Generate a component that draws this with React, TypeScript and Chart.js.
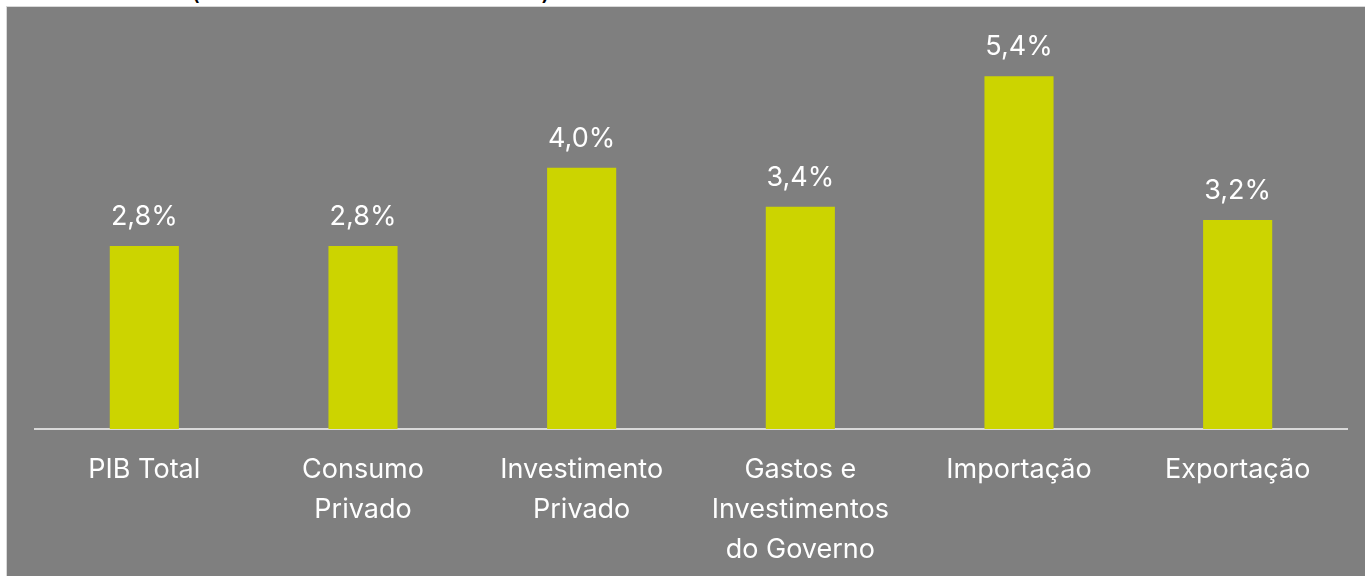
import React, { useEffect, useRef } from "react";
import { Chart, registerables } from "chart.js";

Chart.register(...registerables);

const categories: (string | string[])[] = [
  "PIB Total",
  ["Consumo", "Privado"],
  ["Investimento", "Privado"],
  ["Gastos e", "Investimentos", "do Governo"],
  "Importação",
  "Exportação",
];
const growth: number[] = [2.8, 2.8, 4.0, 3.4, 5.4, 3.2];

const FONT = "Inter, 'Noto Sans', sans-serif";

const valueLabels = {
  id: "valueLabels",
  afterDatasetsDraw(chart: any) {
    const ctx = chart.ctx;
    const meta = chart.getDatasetMeta(0);
    ctx.save();
    ctx.fillStyle = "#ffffff";
    ctx.font = `400 27px ${FONT}`;
    ctx.textAlign = "center";
    ctx.textBaseline = "alphabetic";
    meta.data.forEach((el: any, i: number) => {
      const v = chart.data.datasets[0].data[i] as number;
      ctx.fillText(v.toFixed(1).replace(".", ",") + "%", el.x, el.y - 21);
    });
    ctx.restore();
  },
};

export default function App() {
  const ref = useRef<HTMLCanvasElement | null>(null);

  useEffect(() => {
    if (!ref.current) return;
    const chart = new Chart(ref.current, {
      type: "bar",
      data: {
        labels: categories,
        datasets: [
          {
            data: growth,
            backgroundColor: "#CCD400",
            borderWidth: 0,
            categoryPercentage: 1,
            barPercentage: 0.316,
          },
        ],
      },
      options: {
        animation: false,
        responsive: true,
        maintainAspectRatio: false,
        layout: { padding: { left: 35, right: 18, top: 37, bottom: 0 } },
        plugins: {
          legend: { display: false },
          tooltip: { enabled: false },
          title: { display: false },
        },
        scales: {
          y: { display: false, min: 0, max: 6 },
          x: {
            grid: { display: false, drawTicks: false },
            border: { display: true, color: "#d9d9d9", width: 2 },
            ticks: {
              color: "#ffffff",
              font: { family: FONT, size: 27, lineHeight: 1.48 },
              padding: 21,
              maxRotation: 0,
              minRotation: 0,
              autoSkip: false,
            },
            afterFit: (scale: any) => {
              scale.height = 147;
            },
          },
        },
      },
      plugins: [valueLabels],
    });
    return () => chart.destroy();
  }, []);

  return (
    <div
      style={{
        position: "fixed",
        left: 0,
        top: 0,
        width: 1365,
        height: 576,
        background: "#ffffff",
        overflow: "hidden",
      }}
    >
      <span
        style={{
          position: "absolute",
          left: 190,
          top: -25,
          fontFamily: FONT,
          fontSize: 28,
          lineHeight: "28px",
          color: "#000",
        }}
      >
        (
      </span>
      <span
        style={{
          position: "absolute",
          left: 541,
          top: -25,
          fontFamily: FONT,
          fontSize: 28,
          lineHeight: "28px",
          color: "#000",
        }}
      >
        )
      </span>
      <div
        style={{
          position: "absolute",
          left: 6,
          top: 6,
          width: 1365,
          height: 576,
          background: "#7f7f7f",
          border: "1px solid #d9d9d9",
        }}
      />
      <div style={{ position: "absolute", left: 0, top: 0, width: 1365, height: 576 }}>
        <canvas ref={ref} />
      </div>
    </div>
  );
}
